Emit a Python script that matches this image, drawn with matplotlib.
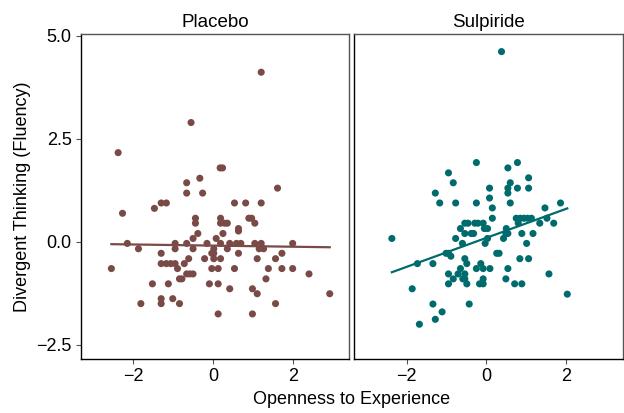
import numpy as np
from matplotlib import pyplot as plt

plt.rcParams['font.family'] = ['Liberation Sans', 'DejaVu Sans']

# Placebo group (openness, fluency)
placebo_x = [1.21, -0.55, -2.38, 0.18, 0.24, -0.33, -0.66, -0.66, -0.26, 1.62,
             -1.30, -1.17, -1.47, 0.54, 0.82, 1.21, -2.27,
             -0.44, -0.44, 0.19, 0.19, 0.29, 0.36, 0.90, 0.97, 1.05,
             0.64, 0.64, -0.38, 0.25, 0.08, -0.50,
             -2.15, -0.95, -0.66, -0.15, 0.19, 0.42, 0.59, 0.70, 1.05, 1.21, 2.00,
             -1.87, -0.95, -0.50, 0.02, 0.36, 1.16, 1.27,
             -1.30, -0.03, 0.02, 0.64, 1.73,
             -0.61, -0.21, 0.02, 0.19, 1.11, 1.57,
             -1.30, -1.17, -1.06, -0.95, -0.72,
             -2.55, -0.89, -0.03, 0.13, 0.54, 1.39, 1.73, 2.00,
             -0.66, -0.58, -0.50, 2.41,
             -0.84, -0.78, 1.33,
             -1.52, -1.12, -0.09, 0.13,
             0.42, 0.99, 1.11, 2.93,
             -1.30, -1.30, -1.01, -1.81, -0.84, 1.57,
             0.13, 0.99]
placebo_y = [4.11, 2.89, 2.16, 1.79, 1.79, 1.54, 1.43, 1.18, 1.18, 1.30,
             0.94, 0.94, 0.81, 0.94, 0.94, 0.94, 0.69,
             0.57, 0.45, 0.57, 0.45, 0.45, 0.45, 0.57, 0.57, 0.45,
             0.32, 0.26, 0.20, 0.20, 0.08, 0.08,
             -0.04, -0.04, -0.04, -0.04, -0.04, -0.04, -0.04, -0.04, -0.04, -0.04, -0.04,
             -0.17, -0.17, -0.17, -0.17, -0.17, -0.17, -0.17,
             -0.28, -0.28, -0.28, -0.28, -0.28,
             -0.41, -0.41, -0.41, -0.41, -0.41, -0.41,
             -0.53, -0.53, -0.53, -0.53, -0.53,
             -0.65, -0.65, -0.65, -0.65, -0.65, -0.65, -0.65, -0.65,
             -0.78, -0.78, -0.78, -0.78,
             -0.90, -0.90, -0.90,
             -1.02, -1.02, -1.02, -1.02,
             -1.14, -1.14, -1.26, -1.26,
             -1.38, -1.50, -1.38, -1.50, -1.50, -1.50,
             -1.75, -1.75]

# Sulpiride group (openness, fluency)
sulp_x = [0.38, -0.25, 0.54, 0.78, -0.95, -0.83, 0.60, 0.54, 0.54, 0.08,
          0.78, 1.06, 1.06, -1.28, 0.08,
          -1.17, -0.77, -0.25, 0.60, 0.15, 1.47, 1.86,
          0.15, 0.75, 0.85, 0.94, 1.03, 1.13, 1.52,
          1.34, 1.69, -0.54, -0.46, -0.29, -0.21, -0.08,
          -0.65, -0.05, 0.03, 0.50, 0.80,
          -0.38, -0.32, -0.54, 0.49, 0.54, 0.89, 1.17,
          -2.37, -0.77, 0.43, 0.03,
          -0.60, -0.03, 1.01,
          -1.01, -0.95, -0.89, 0.26, 0.32,
          -0.54, -0.49, -0.14, 0.84, 1.06, -1.73, -1.34,
          -0.65, -0.25, -0.08, 0.09, 0.54,
          -0.95, -0.71, -0.54, 1.57,
          -0.83, -0.59, -0.54, -0.08, 0.49,
          -0.95, -0.49, -0.17, -0.08, 0.71, 0.89,
          -1.86, 2.03, -1.34, -0.43, -1.11, -1.28, -1.68]
sulp_y = [4.61, 1.92, 1.79, 1.92, 1.67, 1.43, 1.43, 1.30, 1.18, 1.30,
          1.30, 1.55, 1.30, 1.18, 1.06,
          0.94, 0.94, 0.94, 0.94, 0.82, 0.82, 0.94,
          0.57, 0.57, 0.57, 0.57, 0.57, 0.57, 0.57,
          0.45, 0.45, 0.45, 0.45, 0.45, 0.45, 0.45,
          0.32, 0.32, 0.32, 0.32, 0.45,
          0.20, 0.20, 0.20, 0.20, 0.20, 0.20, 0.20,
          0.08, 0.08, 0.08, 0.08,
          -0.04, -0.04, -0.04,
          -0.28, -0.28, -0.35, -0.28, -0.28,
          -0.41, -0.53, -0.53, -0.41, -0.41, -0.53, -0.53,
          -0.65, -0.65, -0.65, -0.65, -0.65,
          -0.78, -0.78, -0.78, -0.78,
          -0.90, -0.90, -0.90, -0.90, -0.90,
          -1.02, -1.02, -1.02, -1.02, -1.02, -1.02,
          -1.14, -1.27, -1.51, -1.51, -1.70, -1.88, -2.00]

groups = ['Placebo', 'Sulpiride']
colors = ['#7a4a46', '#006b6c']
xs = [placebo_x, sulp_x]
ys = [placebo_y, sulp_y]

fig = plt.figure(figsize=(6.24, 4.13), dpi=100)
ax1 = fig.add_axes([0.1293, 0.130, 0.4304, 0.787])
ax2 = fig.add_axes([0.5673, 0.130, 0.4306, 0.787], sharey=ax1)

for ax, name, c, x, y in zip([ax1, ax2], groups, colors, xs, ys):
    x = np.array(x)
    y = np.array(y)
    ax.scatter(x, y, s=26, color=c, edgecolors='none', zorder=3)
    b, a = np.polyfit(x, y, 1)
    xl = np.array([x.min(), x.max()])
    ax.plot(xl, a + b * xl, color=c, lw=1.6, zorder=2)
    ax.set_title(name, fontsize=13.5, pad=5)
    ax.set_xlim(-3.32, 3.42)
    ax.set_xticks([-2, 0, 2])
    ax.set_xticklabels(['\u22122', '0', '2'])
    for s in ['top', 'right']:
        ax.spines[s].set_color('#555555')
    for s in ['left', 'bottom']:
        ax.spines[s].set_color('black')
    for s in ax.spines.values():
        s.set_linewidth(1.0)
    ax.tick_params(direction='out', length=3.5, width=0.8, color='#555555',
                   labelsize=13, labelcolor='black', pad=3)

ax1.set_ylim(-2.85, 5.03)
ax1.set_yticks([-2.5, 0, 2.5, 5.0])
ax1.set_yticklabels(['\u22122.5', '0.0', '2.5', '5.0'])
ax2.tick_params(axis='y', left=False, labelleft=False)
ax1.set_ylabel('Divergent Thinking (Fluency)', fontsize=13, labelpad=4)
fig.text(0.564, 0.022, 'Openness to Experience', ha='center', fontsize=13)

plt.savefig('out.png')
